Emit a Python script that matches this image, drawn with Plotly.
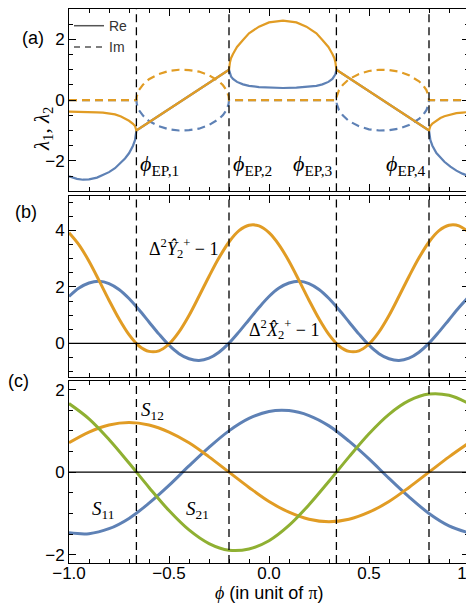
import plotly.graph_objects as go
from plotly.subplots import make_subplots

BLUE = "#5E81B5"
ORANGE = "#E19C24"
GREEN = "#8FB032"
SANS = "Liberation Sans, Arial, sans-serif"
SERIF = "Liberation Serif, DejaVu Serif, serif"

# exceptional points (in unit of pi)
phi_ep = [-0.663, -0.2, 0.337, 0.8]

phi_a_left = [-1.0, -0.96, -0.93, -0.90, -0.86, -0.83, -0.80, -0.77, -0.74, -0.72, -0.70, -0.68, -0.67, -0.663]
re1_left = [-0.38, -0.38, -0.38, -0.39, -0.40, -0.41, -0.43, -0.47, -0.54, -0.60, -0.68, -0.78, -0.85, -1.0]
re2_left = [-2.51, -2.59, -2.62, -2.61, -2.55, -2.47, -2.37, -2.24, -2.06, -1.92, -1.75, -1.50, -1.32, -1.0]

phi_a_mid = [-0.2, -0.195, -0.19, -0.18, -0.16, -0.13, -0.10, -0.05, 0.0, 0.07,
             0.137, 0.187, 0.237, 0.267, 0.297, 0.317, 0.327, 0.332, 0.337]
re1_mid = [1.0, 1.25, 1.38, 1.52, 1.75, 1.98, 2.20, 2.42, 2.56, 2.62,
           2.56, 2.42, 2.20, 1.98, 1.75, 1.52, 1.38, 1.25, 1.0]
re2_mid = [1.0, 0.85, 0.78, 0.70, 0.60, 0.52, 0.47, 0.43, 0.41, 0.40,
           0.41, 0.43, 0.47, 0.52, 0.60, 0.70, 0.78, 0.85, 1.0]

phi_a_right = [0.8, 0.807, 0.817, 0.837, 0.857, 0.877, 0.907, 0.937, 0.967, 1.0]
re1_right = [-1.0, -0.85, -0.77, -0.67, -0.59, -0.53, -0.47, -0.43, -0.41, -0.39]
re2_right = [-1.0, -1.32, -1.50, -1.74, -1.90, -2.03, -2.19, -2.32, -2.42, -2.50]

# panel (a): imaginary parts (humps between EP1-EP2 and EP3-EP4)
phi_hump1 = [-0.663, -0.661, -0.657, -0.65, -0.63, -0.60, -0.55, -0.50, -0.45,
             -0.40, -0.35, -0.30, -0.25, -0.23, -0.213, -0.206, -0.202, -0.2]
phi_hump2 = [0.337, 0.339, 0.343, 0.35, 0.37, 0.40, 0.45, 0.50, 0.55,
             0.60, 0.65, 0.70, 0.75, 0.77, 0.787, 0.794, 0.798, 0.8]
im_hump = [0.0, 0.13, 0.23, 0.33, 0.51, 0.69, 0.86, 0.96, 1.00,
           0.99, 0.94, 0.82, 0.62, 0.49, 0.33, 0.23, 0.13, 0.0]

# panel (b): quadrature variances
phi_b = [-1.0, -0.95, -0.9, -0.85, -0.8, -0.75, -0.7, -0.65, -0.6, -0.55, -0.5,
         -0.45, -0.4, -0.35, -0.3, -0.25, -0.2, -0.15, -0.1, -0.05, 0.0,
         0.05, 0.1, 0.15, 0.2, 0.25, 0.3, 0.35, 0.4, 0.45, 0.5,
         0.55, 0.6, 0.65, 0.7, 0.75, 0.8, 0.85, 0.9, 0.95, 1.0]
var_x = [1.66, 1.96, 2.14, 2.20, 2.12, 1.91, 1.59, 1.19, 0.76, 0.33, -0.06,
         -0.36, -0.54, -0.60, -0.52, -0.31, 0.01, 0.41, 0.84, 1.27, 1.66,
         1.96, 2.14, 2.20, 2.12, 1.91, 1.59, 1.19, 0.76, 0.33, -0.06,
         -0.36, -0.54, -0.60, -0.52, -0.31, 0.01, 0.41, 0.84, 1.27, 1.66]
var_y = [3.92, 3.49, 2.91, 2.23, 1.53, 0.87, 0.31, -0.09, -0.28, -0.26, -0.02,
         0.41, 0.99, 1.67, 2.37, 3.03, 3.59, 3.99, 4.18, 4.16, 3.92,
         3.49, 2.91, 2.23, 1.53, 0.87, 0.31, -0.09, -0.28, -0.26, -0.02,
         0.41, 0.99, 1.67, 2.37, 3.03, 3.59, 3.99, 4.18, 4.16, 3.92]

# panel (c): S-matrix elements
phi_c = [-1.0, -0.9, -0.8, -0.7, -0.6, -0.5, -0.4, -0.3, -0.2, -0.1, 0.0,
         0.1, 0.2, 0.3, 0.4, 0.5, 0.6, 0.7, 0.8, 0.9, 1.0]
s11 = [-1.47, -1.49, -1.37, -1.12, -0.75, -0.32, 0.15, 0.60, 1.00, 1.30, 1.47,
       1.49, 1.37, 1.12, 0.75, 0.32, -0.15, -0.60, -1.00, -1.30, -1.47]
s12 = [0.71, 0.97, 1.14, 1.20, 1.14, 0.97, 0.71, 0.37, 0.0, -0.37, -0.71,
       -0.97, -1.14, -1.20, -1.14, -0.97, -0.71, -0.37, 0.0, 0.37, 0.71]
s21 = [1.66, 1.29, 0.79, 0.22, -0.37, -0.93, -1.40, -1.73, -1.89, -1.86, -1.66,
       -1.29, -0.79, -0.22, 0.37, 0.93, 1.40, 1.73, 1.89, 1.86, 1.66]

# stitched curves for panel (a)
phi_re = phi_a_left + phi_a_mid + phi_a_right
re1 = re1_left + re1_mid + re1_right
re2 = re2_left + re2_mid + re2_right
phi_im = [-1.0] + phi_hump1 + phi_hump2 + [1.0]
im1 = [0.0] + im_hump + im_hump + [0.0]
im2 = [-v for v in im1]

fig = make_subplots(rows=3, cols=1)

DASH = "8px,5px"
fig.add_trace(go.Scatter(x=phi_re, y=re2, mode="lines", line=dict(color=BLUE, width=2.2), showlegend=False), 1, 1)
fig.add_trace(go.Scatter(x=phi_im, y=im2, mode="lines", line=dict(color=BLUE, width=2.2, dash=DASH), showlegend=False), 1, 1)
fig.add_trace(go.Scatter(x=phi_im, y=im1, mode="lines", line=dict(color=ORANGE, width=2.2, dash=DASH), showlegend=False), 1, 1)
fig.add_trace(go.Scatter(x=phi_re, y=re1, mode="lines", line=dict(color=ORANGE, width=2.2), showlegend=False), 1, 1)
# legend samples
fig.add_trace(go.Scatter(x=[None], y=[None], mode="lines", name="Re", line=dict(color="#555555", width=1.5)), 1, 1)
fig.add_trace(go.Scatter(x=[None], y=[None], mode="lines", name="Im", line=dict(color="#555555", width=1.5, dash="6px,5px")), 1, 1)

fig.add_trace(go.Scatter(x=phi_b, y=var_x, mode="lines", line=dict(color=BLUE, width=3, shape="spline"), showlegend=False), 2, 1)
fig.add_trace(go.Scatter(x=phi_b, y=var_y, mode="lines", line=dict(color=ORANGE, width=3, shape="spline"), showlegend=False), 2, 1)

fig.add_trace(go.Scatter(x=phi_c, y=s11, mode="lines", line=dict(color=BLUE, width=3, shape="spline"), showlegend=False), 3, 1)
fig.add_trace(go.Scatter(x=phi_c, y=s12, mode="lines", line=dict(color=ORANGE, width=3, shape="spline"), showlegend=False), 3, 1)
fig.add_trace(go.Scatter(x=phi_c, y=s21, mode="lines", line=dict(color=GREEN, width=3, shape="spline"), showlegend=False), 3, 1)

axis_style = dict(
    showline=True, linecolor="black", linewidth=1, mirror="allticks",
    ticks="inside", ticklen=7, tickwidth=1, tickcolor="black",
    showgrid=False, zeroline=False,
    tickfont=dict(family=SANS, size=17, color="black"),
)

for i in (1, 2, 3):
    fig.update_xaxes(axis_style, row=i, col=1, range=[-1, 1],
                     tickvals=[-1, -0.5, 0, 0.5, 1], tickformat=".1f",
                     minor=dict(ticks="inside", ticklen=4, tickcolor="black", dtick=0.1, tick0=0),
                     showticklabels=(i == 3), ticklabelstandoff=-5)

fig.update_yaxes(axis_style, row=1, col=1, range=[-3, 3], tickvals=[-2, 0, 2],
                 minor=dict(ticks="inside", ticklen=4, tickcolor="black", dtick=0.5, tick0=0),
                 domain=[0.671, 1.0])
fig.update_yaxes(axis_style, row=2, col=1, range=[-1.17, 5.2], tickvals=[0, 2, 4],
                 minor=dict(ticks="inside", ticklen=4, tickcolor="black", dtick=0.5, tick0=0),
                 domain=[0.3366, 0.6616])
fig.update_yaxes(axis_style, row=3, col=1, range=[-2.2, 2.2], tickvals=[-2, 0, 2],
                 minor=dict(ticks="inside", ticklen=4, tickcolor="black", dtick=0.5, tick0=0),
                 domain=[0.0, 0.328])

shapes = []
for i, ax in enumerate(["", "2", "3"]):
    for p in phi_ep:
        shapes.append(dict(type="line", xref="x" + ax, yref="y" + ax + " domain",
                           x0=p, x1=p, y0=0, y1=1,
                           line=dict(color="black", width=1.3, dash="8px,5px")))
    if ax:
        shapes.append(dict(type="line", xref="x" + ax + " domain", yref="y" + ax,
                           x0=0, x1=1, y0=0, y1=0, line=dict(color="black", width=1.2)))

annotations = []
ep_labels = [
    (phi_ep[0] + 0.01, "left", "1"),
    (phi_ep[1] + 0.01, "left", "2"),
    (phi_ep[2] - 0.01, "right", "3"),
    (phi_ep[3] - 0.01, "right", "4"),
]
for xp, anchor, k in ep_labels:
    annotations.append(dict(x=xp, y=-2.15, xref="x", yref="y", xanchor=anchor, yanchor="middle",
                            text="<i>ϕ</i><sub>EP,%s</sub>" % k, showarrow=False,
                            font=dict(family=SERIF, size=22, color="black")))

annotations += [
    dict(x=-0.43, y=3.36, xref="x2", yref="y2", showarrow=False,
         text="Δ<sup>2</sup><i>Ŷ</i><sub>2</sub><sup>+</sup> − 1",
         font=dict(family=SERIF, size=18, color="black")),
    dict(x=0.075, y=0.5, xref="x2", yref="y2", showarrow=False,
         text="Δ<sup>2</sup><i>X̂</i><sub>2</sub><sup>+</sup> − 1",
         font=dict(family=SERIF, size=18, color="black")),
    dict(x=-0.585, y=1.47, xref="x3", yref="y3", showarrow=False,
         text="<i>S</i><sub>12</sub>", font=dict(family=SERIF, size=19, color="black")),
    dict(x=-0.83, y=-0.91, xref="x3", yref="y3", showarrow=False,
         text="<i>S</i><sub>11</sub>", font=dict(family=SERIF, size=19, color="black")),
    dict(x=-0.36, y=-0.91, xref="x3", yref="y3", showarrow=False,
         text="<i>S</i><sub>21</sub>", font=dict(family=SERIF, size=19, color="black")),
    # panel tags
    dict(x=-0.1225, y=(555 - 18) / 554, xref="paper", yref="paper", xanchor="left", showarrow=False,
         text="(a)", font=dict(family=SANS, size=18, color="black")),
    dict(x=-0.14, y=(555 - 204) / 554, xref="paper", yref="paper", xanchor="left", showarrow=False,
         text="(b)", font=dict(family=SANS, size=18, color="black")),
    dict(x=-0.158, y=(555 - 385) / 554, xref="paper", yref="paper", xanchor="left", showarrow=False,
         text="(c)", font=dict(family=SANS, size=18, color="black")),
    # axis titles
    dict(x=0.5, y=(555 - 597) / 554, xref="paper", yref="paper", showarrow=False,
         text="<span style='font-family:Liberation Serif'><i>ϕ</i></span> (in unit of <span style='font-family:Liberation Serif'>π</span>)",
         font=dict(family=SANS, size=18, color="black")),
    dict(x=-0.1025, y=(555 - 97) / 554, xref="paper", yref="paper", showarrow=False, textangle=-90,
         text="<i>λ</i><sub>1</sub>, <i>λ</i><sub>2</sub>",
         font=dict(family=SERIF, size=21, color="black")),
]

fig.update_layout(
    width=474, height=608,
    margin=dict(l=61, r=13, t=1, b=53),
    plot_bgcolor="white", paper_bgcolor="white",
    shapes=shapes, annotations=annotations,
    legend=dict(x=0.0, y=0.998, xanchor="left", yanchor="top", bgcolor="rgba(0,0,0,0)",
                font=dict(family=SANS, size=14, color="#333333"), itemwidth=30,
                tracegroupgap=0),
)

fig.write_html("out.html")
